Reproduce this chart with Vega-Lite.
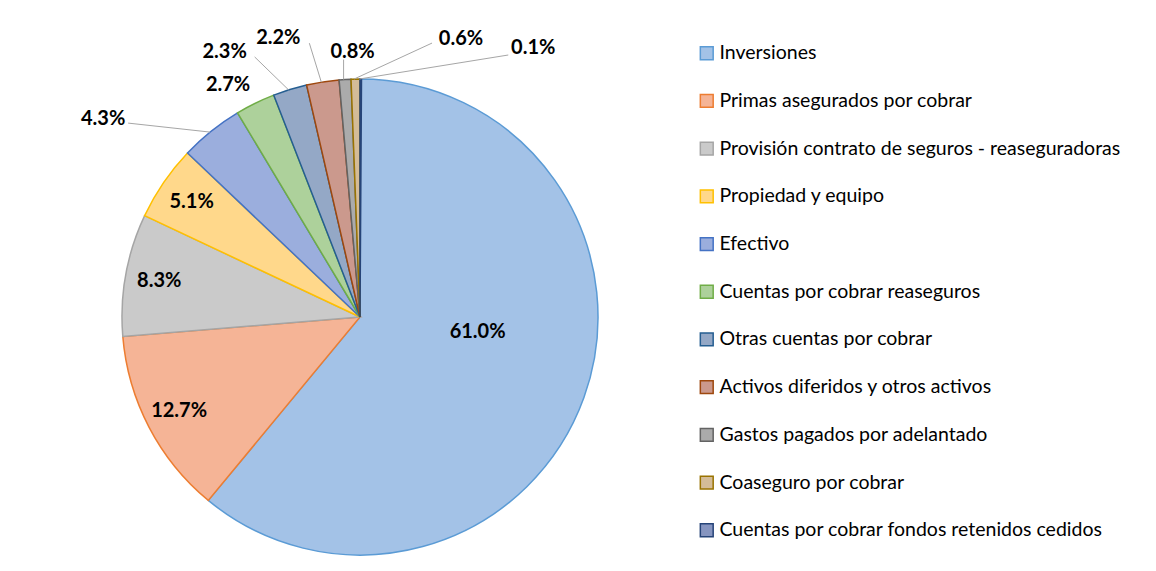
{
  "$schema": "https://vega.github.io/schema/vega-lite/v6.json",
  "width": 720,
  "height": 508,
  "autosize": "none",
  "padding": {"left": 0, "top": 63, "right": 436, "bottom": 0},
  "background": "white",
  "config": {"view": {"stroke": null}, "font": "Lato"},
  "data": {
    "values": [
      {"cat": "Inversiones", "value": 61.0, "i": 1},
      {"cat": "Primas asegurados por cobrar", "value": 12.7, "i": 2},
      {"cat": "Provisión contrato de seguros - reaseguradoras", "value": 8.3, "i": 3},
      {"cat": "Propiedad y equipo", "value": 5.1, "i": 4},
      {"cat": "Efectivo", "value": 4.3, "i": 5},
      {"cat": "Cuentas por cobrar reaseguros", "value": 2.7, "i": 6},
      {"cat": "Otras cuentas por cobrar", "value": 2.3, "i": 7},
      {"cat": "Activos diferidos y otros activos", "value": 2.2, "i": 8},
      {"cat": "Gastos pagados por adelantado", "value": 0.8, "i": 9},
      {"cat": "Coaseguro por cobrar", "value": 0.6, "i": 10},
      {"cat": "Cuentas por cobrar fondos retenidos cedidos", "value": 0.1, "i": 11}
    ]
  },
  "transform": [
    {"stack": "value", "groupby": [], "sort": [{"field": "i", "order": "ascending"}], "as": ["v0", "v1"]},
    {"joinaggregate": [{"op": "sum", "field": "value", "as": "total"}]},
    {"calculate": "(datum.v0 + datum.v1) / 2", "as": "mid"},
    {"calculate": "2 * PI * datum.mid / datum.total", "as": "ang"},
    {"calculate": "238 * sin(datum.ang)", "as": "rx"},
    {"calculate": "238 * cos(datum.ang)", "as": "ry"},
    {"calculate": "format(datum.value, '.1f') + '%'", "as": "label"}
  ],
  "layer": [
    {
      "mark": {"type": "arc", "outerRadius": 238, "strokeWidth": 1.5},
      "encoding": {
        "theta": {"field": "v0", "type": "quantitative"},
        "theta2": {"field": "v1"},
        "fill": {
          "field": "cat", "type": "nominal",
          "scale": {
            "domain": ["Inversiones", "Primas asegurados por cobrar", "Provisión contrato de seguros - reaseguradoras", "Propiedad y equipo", "Efectivo", "Cuentas por cobrar reaseguros", "Otras cuentas por cobrar", "Activos diferidos y otros activos", "Gastos pagados por adelantado", "Coaseguro por cobrar", "Cuentas por cobrar fondos retenidos cedidos"],
            "range": ["#A3C2E7", "#F5B496", "#CACACA", "#FFD88B", "#9BAEDD", "#ADD19B", "#94A8C6", "#CB998D", "#ABABAB", "#D4BC98", "#8695C0"]
          },
          "legend": {
            "title": null,
            "orient": "none",
            "legendX": 697,
            "legendY": -19.5,
            "padding": 0,
            "symbolType": "square",
            "symbolSize": 165,
            "symbolStrokeWidth": 1.5,
            "labelFontSize": 19.5,
            "labelFont": "Lato",
            "labelColor": "#000000",
            "labelOffset": 3,
            "rowPadding": 26.7,
            "labelLimit": 500
          }
        },
        "stroke": {
          "field": "cat", "type": "nominal",
          "scale": {
            "domain": ["Inversiones", "Primas asegurados por cobrar", "Provisión contrato de seguros - reaseguradoras", "Propiedad y equipo", "Efectivo", "Cuentas por cobrar reaseguros", "Otras cuentas por cobrar", "Activos diferidos y otros activos", "Gastos pagados por adelantado", "Coaseguro por cobrar", "Cuentas por cobrar fondos retenidos cedidos"],
            "range": ["#5B9BD5", "#ED7D31", "#A5A5A5", "#FFC000", "#4472C4", "#70AD47", "#255E91", "#9E480E", "#636363", "#997300", "#264478"]
          },
          "legend": {
            "title": null,
            "orient": "none",
            "legendX": 697,
            "legendY": -19.5,
            "padding": 0,
            "symbolType": "square",
            "symbolSize": 165,
            "symbolStrokeWidth": 1.5,
            "labelFontSize": 19.5,
            "labelFont": "Lato",
            "labelColor": "#000000",
            "labelOffset": 3,
            "rowPadding": 26.7,
            "labelLimit": 500
          }
        }
      }
    },
    {
      "transform": [{"filter": "datum.cat == 'Inversiones'"}],
      "mark": {"type": "text", "radius": 125, "dy": -27, "fontSize": 20, "fontWeight": "bold", "font": "Lato", "color": "#000000"},
      "encoding": {
        "theta": {"field": "mid", "type": "quantitative"},
        "text": {"field": "label"}
      }
    },
    {
      "transform": [{"filter": "datum.i >= 2 && datum.i <= 4"}],
      "mark": {"type": "text", "radius": 204, "fontSize": 20, "fontWeight": "bold", "font": "Lato", "color": "#000000"},
      "encoding": {
        "theta": {"field": "mid", "type": "quantitative"},
        "text": {"field": "label"}
      }
    },
    {
      "transform": [
        {"filter": "datum.i >= 5 && datum.i != 6"},
        {"calculate": "datum.rx + (datum.i == 5 ? -82 : datum.i == 7 ? -34 : datum.i == 8 ? -12 : datum.i == 9 ? 0 : datum.i == 10 ? 78 : 149)", "as": "ex"},
        {"calculate": "datum.ry + (datum.i == 5 ? 9 : datum.i == 7 ? 33 : datum.i == 8 ? 39 : datum.i == 9 ? 20 : datum.i == 10 ? 36 : 24)", "as": "ey"}
      ],
      "mark": {"type": "rule", "color": "#A6A6A6", "strokeWidth": 1},
      "encoding": {
        "x": {"field": "rx", "type": "quantitative", "scale": {"domain": [-360, 360], "nice": false, "zero": false}, "axis": null},
        "y": {"field": "ry", "type": "quantitative", "scale": {"domain": [-254, 254], "nice": false, "zero": false}, "axis": null},
        "x2": {"field": "ex"},
        "y2": {"field": "ey"}
      }
    },
    {
      "transform": [
        {"filter": "datum.i >= 5"},
        {"calculate": "datum.rx + (datum.i == 5 ? -107 : datum.i == 6 ? -26 : datum.i == 7 ? -64 : datum.i == 8 ? -43 : datum.i == 9 ? 9 : datum.i == 10 ? 107 : 174)", "as": "lx"},
        {"calculate": "datum.ry + (datum.i == 5 ? 13 : datum.i == 6 ? 19 : datum.i == 7 ? 38 : datum.i == 8 ? 44 : datum.i == 9 ? 28 : datum.i == 10 ? 40 : 31)", "as": "ly"}
      ],
      "mark": {"type": "text", "fontSize": 20, "fontWeight": "bold", "font": "Lato", "color": "#000000", "baseline": "middle", "align": "center"},
      "encoding": {
        "x": {"field": "lx", "type": "quantitative", "scale": {"domain": [-360, 360], "nice": false, "zero": false}, "axis": null},
        "y": {"field": "ly", "type": "quantitative", "scale": {"domain": [-254, 254], "nice": false, "zero": false}, "axis": null},
        "text": {"field": "label"}
      }
    }
  ]
}
